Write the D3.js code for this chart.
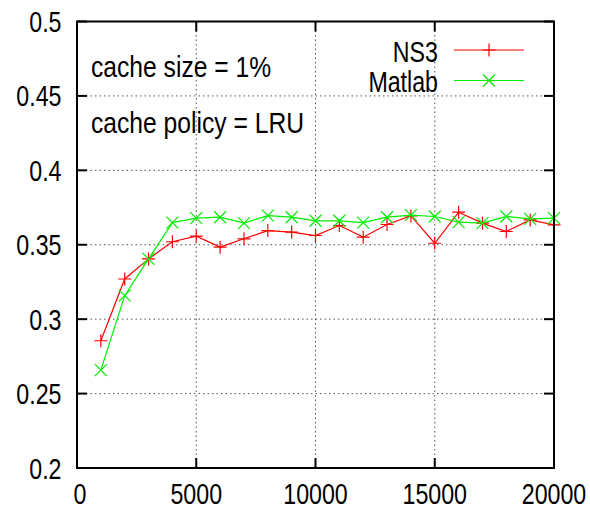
<!DOCTYPE html>
<html>
<head>
<meta charset="utf-8">
<script src="https://cdn.jsdelivr.net/npm/d3@7.9.0/dist/d3.min.js"></script>
<style>
  body { margin: 0; background: #fff; }
  svg { display: block; }
  text { font-family: "Liberation Sans", Arial, sans-serif; fill: #000; }
</style>
</head>
<body>
<svg id="chart" width="590" height="510"></svg>
<script>
// ====== DATA ======
const xValues = [1000, 2000, 3000, 4000, 5000, 6000, 7000, 8000, 9000, 10000,
  11000, 12000, 13000, 14000, 15000, 16000, 17000, 18000, 19000, 20000];
const ns3 = [0.2855, 0.327, 0.3405, 0.352, 0.3558, 0.3484, 0.354, 0.3595, 0.3585, 0.3562,
  0.3629, 0.3551, 0.3636, 0.3694, 0.351, 0.3719, 0.3645, 0.3589, 0.3667, 0.3634];
const matlab = [0.2658, 0.3158, 0.3405, 0.3649, 0.3679, 0.3685, 0.3645, 0.3696, 0.3685, 0.3661,
  0.3661, 0.3649, 0.3685, 0.3699, 0.369, 0.3652, 0.3645, 0.369, 0.3674, 0.3679];
const xTicks = [0, 5000, 10000, 15000, 20000];
const yTicks = [0.2, 0.25, 0.3, 0.35, 0.4, 0.45, 0.5];
const seriesNames = ["NS3", "Matlab"];
const notes = ["cache size = 1%", "cache policy = LRU"];

// ====== LAYOUT ======
const pLeft = 77, pRight = 554, pTop = 21.5, pBottom = 468;
const svg = d3.select("#chart");
const x = d3.scaleLinear().domain([0, 20000]).range([pLeft, pRight]);
const y = d3.scaleLinear().domain([0.2, 0.5]).range([pBottom, pTop]);
const red = "#ff0000", green = "#00ee00";
const tickLen = 10;
const fontSize = 29, squeeze = 0.8;

// condensed text helper (gnuplot's narrow-looking Helvetica)
function label(px, py, str, anchor, sx) {
  svg.append("text")
    .attr("transform", `translate(${px},${py}) scale(${sx || squeeze},1)`)
    .attr("text-anchor", anchor || "start")
    .attr("font-size", fontSize)
    .text(str);
}

// grid
const grid = svg.append("g").attr("stroke", "#555").attr("stroke-width", 1)
  .attr("stroke-dasharray", "1.5,3");
xTicks.slice(1, -1).forEach(t => {
  grid.append("line").attr("x1", x(t)).attr("x2", x(t)).attr("y1", pTop).attr("y2", pBottom);
});
yTicks.slice(1, -1).forEach(t => {
  grid.append("line").attr("x1", pLeft).attr("x2", pRight).attr("y1", y(t)).attr("y2", y(t));
});

// axes (inward ticks, mirrored)
const axisG = svg.append("g").attr("stroke", "#000").attr("stroke-width", 2);
xTicks.forEach(t => {
  axisG.append("line").attr("x1", x(t)).attr("x2", x(t)).attr("y1", pBottom).attr("y2", pBottom - tickLen);
  axisG.append("line").attr("x1", x(t)).attr("x2", x(t)).attr("y1", pTop).attr("y2", pTop + tickLen);
});
yTicks.forEach(t => {
  axisG.append("line").attr("x1", pLeft).attr("x2", pLeft + tickLen).attr("y1", y(t)).attr("y2", y(t));
  axisG.append("line").attr("x1", pRight).attr("x2", pRight - tickLen).attr("y1", y(t)).attr("y2", y(t));
});

xTicks.forEach(t => label(x(t) + (t === 0 ? 3 : 0), 503.5, t, "middle"));
yTicks.forEach(t => label(61.5, y(t) + 10.5, t, "end"));

// notes
notes.forEach((n, i) => label(91, [77, 133][i], n, "start", 0.85));

// ====== SERIES ======
function plus(g, cx, cy, color) {
  g.append("path").attr("d", `M${cx - 6.5},${cy}H${cx + 6.5}M${cx},${cy - 6.5}V${cy + 6.5}`)
    .attr("stroke", color).attr("stroke-width", 1.2).attr("fill", "none");
}
function cross(g, cx, cy, color) {
  g.append("path").attr("d", `M${cx - 6},${cy - 6}L${cx + 6},${cy + 6}M${cx - 6},${cy + 6}L${cx + 6},${cy - 6}`)
    .attr("stroke", color).attr("stroke-width", 1.2).attr("fill", "none");
}

const line = d3.line().x(d => x(d[0])).y(d => y(d[1]));
[[ns3, red, plus], [matlab, green, cross]].forEach(([vals, color, marker]) => {
  const pts = xValues.map((v, i) => [v, vals[i]]);
  const g = svg.append("g");
  g.append("path").datum(pts).attr("d", line).attr("fill", "none")
    .attr("stroke", color).attr("stroke-width", 1.2);
  pts.forEach(p => marker(g, x(p[0]), y(p[1]), color));
});

// legend
seriesNames.forEach((name, i) => {
  const ly = [50, 80.5][i];
  label(438, ly + 11.5, name, "end");
  const color = i === 0 ? red : green;
  svg.append("line").attr("x1", 454).attr("x2", 524).attr("y1", ly).attr("y2", ly)
    .attr("stroke", color).attr("stroke-width", 1.2);
  (i === 0 ? plus : cross)(svg, 489, ly, color);
});

// frame
svg.append("rect").attr("x", pLeft).attr("y", pTop).attr("width", pRight - pLeft).attr("height", pBottom - pTop)
  .attr("fill", "none").attr("stroke", "#000").attr("stroke-width", 2);
</script>
</body>
</html>
